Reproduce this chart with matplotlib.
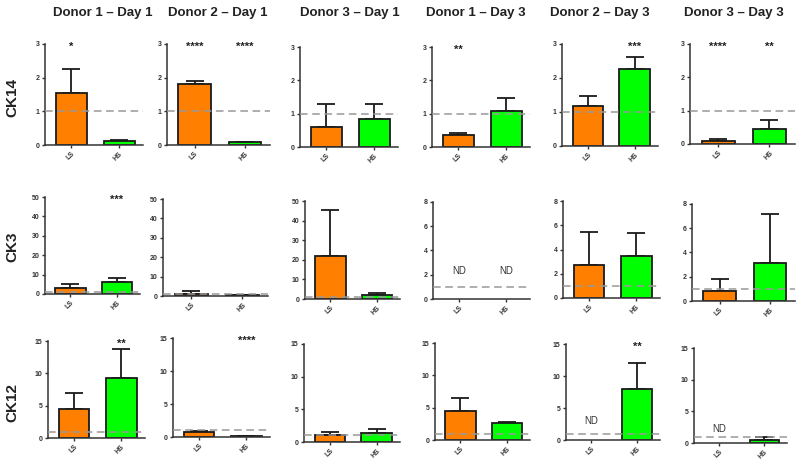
import matplotlib
matplotlib.use("Agg")
import matplotlib.pyplot as plt

plt.rcParams['font.family'] = ['Liberation Sans', 'DejaVu Sans']

titles = ["Donor 1 – Day 1", "Donor 2 – Day 1", "Donor 3 – Day 1",
          "Donor 1 – Day 3", "Donor 2 – Day 3", "Donor 3 – Day 3"]
markers = ["CK14", "CK3", "CK12"]
groups = ["LS", "HS"]

# means (None = not detected) and upper error bar tops
ck14_mean = [[1.55, 0.12], [1.80, 0.08], [0.60, 0.85], [0.35, 1.07], [1.18, 2.27], [0.10, 0.45]]
ck14_top = [[2.25, 0.15], [1.90, 0.10], [1.28, 1.28], [0.43, 1.48], [1.46, 2.62], [0.14, 0.73]]
ck14_sig = [["*", ""], ["****", "****"], ["", ""], ["**", ""], ["", "***"], ["****", "**"]]

ck3_mean = [[3.3, 6.0], [1.2, 0.3], [22.0, 1.8], [None, None], [2.7, 3.5], [0.8, 3.1]]
ck3_top = [[5.0, 8.5], [2.5, 0.4], [45.5, 3.0], [None, None], [5.45, 5.35], [1.78, 7.15]]
ck3_sig = [["", "***"], ["", ""], ["", ""], ["", ""], ["", ""], ["", ""]]

ck12_mean = [[4.5, 9.3], [0.75, 0.1], [1.1, 1.4], [4.5, 2.6], [None, 7.9], [None, 0.4]]
ck12_top = [[7.0, 13.8], [0.9, 0.15], [1.5, 2.0], [6.5, 2.8], [None, 12.1], [None, 0.95]]
ck12_sig = [["", "**"], ["", "****"], ["", ""], ["", ""], ["", "**"], ["", ""]]

row_means = [ck14_mean, ck3_mean, ck12_mean]
row_tops = [ck14_top, ck3_top, ck12_top]
row_sigs = [ck14_sig, ck3_sig, ck12_sig]
row_ymax = [[3] * 6, [50, 50, 50, 8, 8, 8], [15] * 6]
row_ticks = [[[0, 1, 2, 3]] * 6,
             [[0, 10, 20, 30, 40, 50]] * 3 + [[0, 2, 4, 6, 8]] * 3,
             [[0, 5, 10, 15]] * 6]
nd_y = [[None] * 6, [None, None, None, 2.3, None, None],
        [None, None, None, None, 3.0, 2.2]]

# layout (pixels): x0, x1, ytop, ybot
layout = [
    [(45, 143, 44, 145), (167, 270, 44, 145), (300, 398, 47, 147),
     (432, 530, 47, 147), (562, 658, 44, 146), (690, 795, 44, 144)],
    [(45, 140, 197, 294), (163, 268, 199, 296), (305, 400, 201, 299),
     (433, 530, 202, 299), (563, 660, 201, 298), (692, 795, 204, 301)],
    [(48, 145, 341, 438), (173, 270, 338, 437), (304, 400, 344, 442),
     (435, 530, 343, 440), (566, 660, 344, 440), (694, 787, 348, 443)],
]
title_x = [103, 218, 350, 476, 600, 734]
row_label_y = [97, 247, 402]

W, H = 798, 461
fig = plt.figure(figsize=(W / 100, H / 100), dpi=100)
colors = ["#FF8000", "#00FF00"]

for r in range(3):
    for c in range(6):
        x0, x1, yt, yb = layout[r][c]
        ax = fig.add_axes([x0 / W, 1 - yb / H, (x1 - x0) / W, (yb - yt) / H])
        ymax = row_ymax[r][c]
        for i in range(2):
            m = row_means[r][c][i]
            t = row_tops[r][c][i]
            if m is not None:
                ax.bar(i, m, width=0.65, color=colors[i], edgecolor="#1a1a1a",
                       linewidth=1.3, zorder=2)
                ax.errorbar(i, m, yerr=[[0], [t - m]], fmt="none", ecolor="#1a1a1a",
                            elinewidth=1.3, capsize=6.5, capthick=1.3, zorder=1)
            s = row_sigs[r][c][i]
            if s:
                ax.text(i, ymax * 0.97, s, ha="center", va="center", fontsize=8,
                        fontweight="bold", color="#222222")
        if nd_y[r][c] is not None:
            if r == 1:
                for i in range(2):
                    ax.text(i, nd_y[r][c], "ND", ha="center", va="center", fontsize=7, color="#333333")
            else:
                ax.text(0, nd_y[r][c], "ND", ha="center", va="center", fontsize=7, color="#333333")
        ax.axhline(1, color="#999999", linestyle=(0, (5, 3)), linewidth=1.1, zorder=3)
        ax.set_xlim(-0.55, 1.5)
        ax.set_ylim(0, ymax)
        ax.set_yticks(row_ticks[r][c])
        ax.set_xticks([0, 1])
        ax.set_xticklabels(groups, rotation=45, ha="right", rotation_mode="anchor")
        for sp in ["top", "right"]:
            ax.spines[sp].set_visible(False)
        for sp in ["left", "bottom"]:
            ax.spines[sp].set_linewidth(1.1)
            ax.spines[sp].set_color("#333333")
        ax.tick_params(axis="both", labelsize=5, width=1, length=2.5, pad=1.5,
                       colors="#333333")
        for lab in ax.get_yticklabels() + ax.get_xticklabels():
            lab.set_fontweight("bold")
        ax.patch.set_alpha(0)

for c in range(6):
    fig.text(title_x[c] / W, 1 - 13 / H, titles[c], ha="center", va="center",
             fontsize=9.5, fontweight="bold", color="#222222")
for r in range(3):
    fig.text(12 / W, 1 - row_label_y[r] / H, markers[r], ha="center", va="center",
             rotation=90, fontsize=11, fontweight="bold", color="#222222")

fig.savefig("out.png", dpi=100)
